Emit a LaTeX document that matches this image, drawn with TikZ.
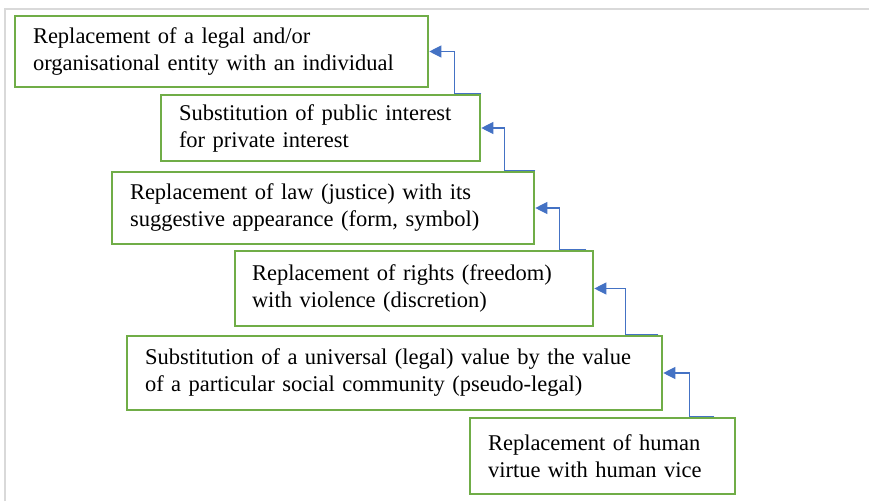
\documentclass[tikz,border=0pt]{standalone}
\usepackage{fontspec}
\setmainfont{Liberation Serif}
\usetikzlibrary{arrows.meta}
\definecolor{boxgreen}{RGB}{112,173,71}
\definecolor{connblue}{RGB}{68,114,196}
\definecolor{framegray}{RGB}{217,217,217}
\begin{document}
\begin{tikzpicture}[x=1pt,y=-1pt,
  stagebox/.style={draw=boxgreen, line width=2.6pt, fill=white, align=left,
    inner xsep=18pt, inner ysep=0pt, anchor=center,
    font=\fontsize{22.5}{27}\selectfont},
  conn/.style={draw=connblue, line width=1.1pt, -{Triangle[length=12pt,width=12pt]}}]
\useasboundingbox (0,0) rectangle (870,501);
% faint page frame
\draw[framegray, line width=1.5pt] (5,501) -- (5,9) -- (869,9);
% boxes
\node[stagebox, minimum width=413pt, minimum height=71pt, text width=377pt] (b1) at (221.5,51.5)
  {Replacement of a legal and/or\\organisational entity with an individual};
\node[stagebox, minimum width=319pt, minimum height=66pt, text width=283pt] (b2) at (320.5,128)
  {Substitution of public interest\\for private interest};
\node[stagebox, minimum width=422pt, minimum height=72pt, text width=386pt, inner xsep=16pt] (b3) at (323,208)
  {Replacement of law (justice) with its\\suggestive appearance (form, symbol)};
\node[stagebox, minimum width=358pt, minimum height=75pt, text width=324pt, inner xsep=17pt] (b4) at (414,288.5)
  {Replacement of rights (freedom)\\with violence (discretion)};
\node[stagebox, minimum width=535pt, minimum height=74pt, text width=499pt] (b5) at (394.5,373)
  {Substitution of a universal (legal) value by the value\\of a particular social community (pseudo-legal)};
\node[stagebox, minimum width=265pt, minimum height=76pt, text width=229pt] (b6) at (602.5,456)
  {Replacement of human\\virtue with human vice};
% connectors
\draw[conn] (b2.north east) -- ++(-27pt,0) |- (b1.east);
\draw[conn] (b3.north east) -- ++(-31pt,0) |- (b2.east);
\draw[conn] ([xshift=-8pt]b4.north east) -- ++(-27pt,0) |- (b3.east);
\draw[conn] ([xshift=-5pt]b5.north east) -- ++(-33pt,0) |- (b4.east);
\draw[conn] ([xshift=-22pt]b6.north east) -- ++(-25pt,0) |- (b5.east);
\end{tikzpicture}
\end{document}
